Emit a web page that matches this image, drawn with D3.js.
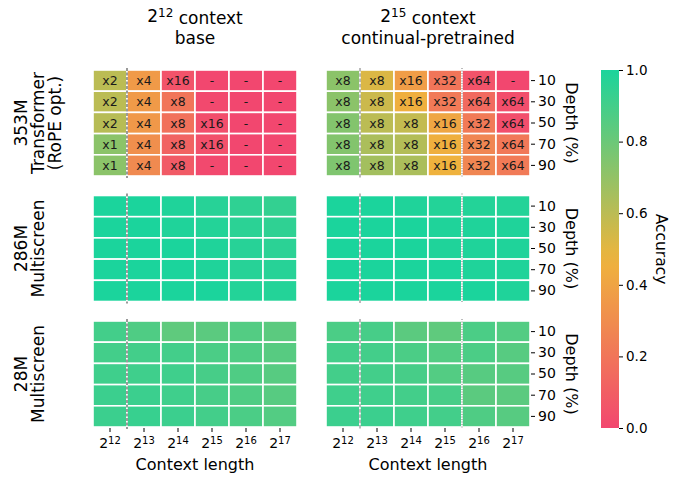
<!DOCTYPE html>
<html>
<head>
<meta charset="utf-8">
<script src="https://cdn.jsdelivr.net/npm/d3@7"></script>
<style>
  body { margin: 0; background: #fff; }
  text { font-family: "DejaVu Sans", sans-serif; fill: #000; }
</style>
</head>
<body>
<div class="canvas"></div>
<script>
// context lengths are 2^exp
const contextExps = [12, 13, 14, 15, 16, 17];
const depths = [10, 30, 50, 70, 90];

const colTitles = [
    {exp: 12, line1: ' context', line2: 'base'},
    {exp: 15, line1: ' context', line2: 'continual-pretrained'}
];
const rowLabels = [
    ['353M', 'Transformer', '(RoPE opt.)'],
    ['286M', 'Multiscreen'],
    ['28M', 'Multiscreen']
];

// accuracy, rows = depth 10..90, cols = 2^12..2^17
const tfBaseAcc = [
    [0.60, 0.36, 0.05, 0.00, 0.00, 0.00],
    [0.60, 0.36, 0.20, 0.01, 0.00, 0.00],
    [0.61, 0.35, 0.18, 0.03, 0.00, 0.00],
    [0.72, 0.31, 0.12, 0.04, 0.00, 0.00],
    [0.72, 0.29, 0.08, 0.01, 0.00, 0.00]
];
const tfBaseScale = [
    ['x2', 'x4', 'x16', '-', '-', '-'],
    ['x2', 'x4', 'x8', '-', '-', '-'],
    ['x2', 'x4', 'x8', 'x16', '-', '-'],
    ['x1', 'x4', 'x8', 'x16', '-', '-'],
    ['x1', 'x4', 'x8', '-', '-', '-']
];
const tfCptAcc = [
    [0.72, 0.52, 0.37, 0.20, 0.05, 0.00],
    [0.72, 0.56, 0.45, 0.22, 0.15, 0.03],
    [0.74, 0.60, 0.58, 0.41, 0.22, 0.03],
    [0.74, 0.64, 0.62, 0.45, 0.27, 0.21],
    [0.75, 0.66, 0.64, 0.46, 0.27, 0.22]
];
const tfCptScale = [
    ['x8', 'x8', 'x16', 'x32', 'x64', '-'],
    ['x8', 'x8', 'x16', 'x32', 'x64', 'x64'],
    ['x8', 'x8', 'x8', 'x16', 'x32', 'x64'],
    ['x8', 'x8', 'x8', 'x16', 'x32', 'x64'],
    ['x8', 'x8', 'x8', 'x16', 'x32', 'x64']
];
const ms286BaseAcc = [
    [1.00, 1.00, 0.99, 0.97, 0.95, 0.94],
    [1.00, 1.00, 0.99, 0.98, 0.96, 0.95],
    [1.00, 1.00, 1.00, 0.99, 0.97, 0.96],
    [1.00, 1.00, 1.00, 0.99, 0.97, 0.97],
    [1.00, 1.00, 1.00, 1.00, 0.98, 0.98]
];
const ms286CptAcc = [
    [1.00, 1.00, 0.99, 0.98, 0.98, 0.98],
    [1.00, 1.00, 1.00, 0.99, 0.99, 0.99],
    [1.00, 1.00, 1.00, 0.99, 0.99, 0.99],
    [1.00, 1.00, 1.00, 1.00, 0.99, 0.99],
    [1.00, 1.00, 1.00, 1.00, 1.00, 0.99]
];
const ms28BaseAcc = [
    [0.90, 0.87, 0.83, 0.84, 0.86, 0.84],
    [0.90, 0.90, 0.90, 0.88, 0.87, 0.85],
    [0.91, 0.91, 0.91, 0.89, 0.87, 0.85],
    [0.92, 0.92, 0.91, 0.89, 0.87, 0.85],
    [0.92, 0.93, 0.92, 0.90, 0.88, 0.86]
];
const ms28CptAcc = [
    [0.88, 0.89, 0.84, 0.83, 0.88, 0.86],
    [0.90, 0.90, 0.88, 0.86, 0.88, 0.85],
    [0.90, 0.90, 0.89, 0.86, 0.85, 0.85],
    [0.91, 0.91, 0.90, 0.89, 0.84, 0.84],
    [0.92, 0.92, 0.91, 0.90, 0.87, 0.85]
];

const accTicks = [0, 0.2, 0.4, 0.6, 0.8, 1.0];

const panels = [
    {row: 0, col: 0, acc: tfBaseAcc, labels: tfBaseScale},
    {row: 0, col: 1, acc: tfCptAcc, labels: tfCptScale},
    {row: 1, col: 0, acc: ms286BaseAcc},
    {row: 1, col: 1, acc: ms286CptAcc},
    {row: 2, col: 0, acc: ms28BaseAcc},
    {row: 2, col: 1, acc: ms28CptAcc}
];

const dims = {width: 680, height: 482};
const colX = [93, 326];
const panelW = 204;
const rowY = [70, 195.5, 321];
const panelH = 106;

const colour = d3.scaleLinear()
    .domain([0, 0.47, 1])
    .range(['#f2476f', '#efb43c', '#1bd49c'])
    .interpolate(d3.interpolateRgb);

const svg = d3.select('.canvas')
    .append('svg')
    .attr('width', dims.width)
    .attr('height', dims.height);

const x = d3.scaleBand().domain(contextExps).range([0, panelW]);
const y = d3.scaleBand().domain(depths).range([0, panelH]);

const supLabel = (sel, base, exp, expSize) => {
    sel.append('tspan').text(base);
    sel.append('tspan').attr('dy', '-0.45em').attr('font-size', expSize).text(exp);
};

panels.forEach(p => {
    const g = svg.append('g')
        .attr('transform', `translate(${colX[p.col]}, ${rowY[p.row]})`);

    const cells = [];
    p.acc.forEach((r, i) => r.forEach((v, j) => cells.push({
        depth: depths[i], exp: contextExps[j], v,
        label: p.labels ? p.labels[i][j] : null
    })));

    g.selectAll('rect')
        .data(cells)
        .enter().append('rect')
        .attr('x', d => x(d.exp))
        .attr('y', d => y(d.depth))
        .attr('width', x.bandwidth())
        .attr('height', y.bandwidth())
        .attr('fill', d => colour(d.v))
        .attr('stroke', '#fff')
        .attr('stroke-width', 1.6);

    if (p.labels) {
        g.selectAll('text.cell')
            .data(cells)
            .enter().append('text')
            .attr('class', 'cell')
            .attr('x', d => x(d.exp) + x.bandwidth() / 2)
            .attr('y', d => y(d.depth) + y.bandwidth() / 2)
            .attr('text-anchor', 'middle')
            .attr('dominant-baseline', 'central')
            .attr('font-size', 12.5)
            .style('fill', '#1a1a1a')
            .text(d => d.label);
    }

    // marker lines: end of base training context / continual-pretrain context
    const bx = x(13);
    if (p.col === 0) {
        g.append('line')
            .attr('x1', bx).attr('x2', bx).attr('y1', -2).attr('y2', panelH + 2)
            .attr('stroke', '#999').attr('stroke-width', 2)
            .attr('stroke-dasharray', '3,1.5');
    } else {
        g.append('line')
            .attr('x1', bx).attr('x2', bx).attr('y1', -2).attr('y2', panelH + 2)
            .attr('stroke', '#777').attr('stroke-width', 1)
            .attr('stroke-dasharray', '3.5,1.8');
        const cx = x(16);
        g.append('line')
            .attr('x1', cx).attr('x2', cx).attr('y1', -2).attr('y2', panelH + 2)
            .attr('stroke', '#999').attr('stroke-width', 1.3)
            .attr('stroke-dasharray', '1,1.5');
    }

    // depth axis on the right panels
    if (p.col === 1) {
        const ax = g.append('g')
            .attr('transform', `translate(${panelW + 1}, 0)`)
            .call(d3.axisRight(y).tickSize(4).tickPadding(3));
        ax.select('.domain').remove();
        ax.selectAll('text').attr('font-size', 14).style('font-family', '"DejaVu Sans", sans-serif');
        g.append('text')
            .attr('transform', `translate(${panelW + 41}, ${panelH / 2}) rotate(90)`)
            .attr('text-anchor', 'middle')
            .attr('dominant-baseline', 'central')
            .attr('font-size', 16)
            .text('Depth (%)');
    }

    // context axis on bottom row
    if (p.row === 2) {
        const ax = g.append('g')
            .attr('transform', `translate(0, ${panelH + 1})`)
            .call(d3.axisBottom(x).tickSize(4).tickPadding(3).tickFormat(() => ''));
        ax.select('.domain').remove();
        ax.selectAll('.tick text').each(function (d) {
            const t = d3.select(this)
                .attr('font-size', 14)
                .attr('y', 20)
                .attr('dy', null)
                .style('font-family', '"DejaVu Sans", sans-serif');
            supLabel(t, '2', d, 10);
        });
        g.append('text')
            .attr('x', panelW / 2)
            .attr('y', panelH + 43)
            .attr('text-anchor', 'middle')
            .attr('font-size', 16)
            .text('Context length');
    }
});

// column titles
colTitles.forEach((t, i) => {
    const cx = colX[i] + panelW / 2;
    const t1 = svg.append('text')
        .attr('x', cx).attr('y', 22)
        .attr('text-anchor', 'middle')
        .attr('font-size', 17);
    t1.append('tspan').text('2');
    t1.append('tspan').attr('dy', '-0.45em').attr('font-size', 12).text(t.exp);
    t1.append('tspan').attr('dy', '0.45em').text(t.line1);
    svg.append('text')
        .attr('x', cx).attr('y', 44)
        .attr('text-anchor', 'middle')
        .attr('font-size', 17)
        .text(t.line2);
});

// row labels
rowLabels.forEach((lines, i) => {
    const cy = rowY[i] + panelH / 2;
    const lh = 17;
    lines.forEach((l, k) => {
        svg.append('text')
            .attr('transform', `translate(${21 + k * lh}, ${cy}) rotate(-90)`)
            .attr('text-anchor', 'middle')
            .attr('dominant-baseline', 'central')
            .attr('font-size', 17)
            .text(l);
    });
});

// colour bar
const cb = {x: 601, y: 70, w: 18, h: 358};
const defs = svg.append('defs');
const grad = defs.append('linearGradient')
    .attr('id', 'accGrad')
    .attr('x1', 0).attr('y1', 1).attr('x2', 0).attr('y2', 0);
d3.range(0, 1.0001, 0.05).forEach(v => {
    grad.append('stop').attr('offset', v).attr('stop-color', colour(v));
});
svg.append('rect')
    .attr('x', cb.x).attr('y', cb.y)
    .attr('width', cb.w).attr('height', cb.h)
    .attr('fill', 'url(#accGrad)');

const cScale = d3.scaleLinear().domain([0, 1]).range([cb.y + cb.h, cb.y]);
const cAxis = svg.append('g')
    .attr('transform', `translate(${cb.x + cb.w}, 0)`)
    .call(d3.axisRight(cScale).tickValues(accTicks).tickFormat(d3.format('.1f')).tickSize(4).tickPadding(3));
cAxis.select('.domain').remove();
cAxis.selectAll('text').attr('font-size', 13.5).style('font-family', '"DejaVu Sans", sans-serif');

svg.append('text')
    .attr('transform', `translate(661, ${cb.y + cb.h / 2}) rotate(90)`)
    .attr('text-anchor', 'middle')
    .attr('dominant-baseline', 'central')
    .attr('font-size', 15.5)
    .text('Accuracy');
</script>
</body>
</html>
